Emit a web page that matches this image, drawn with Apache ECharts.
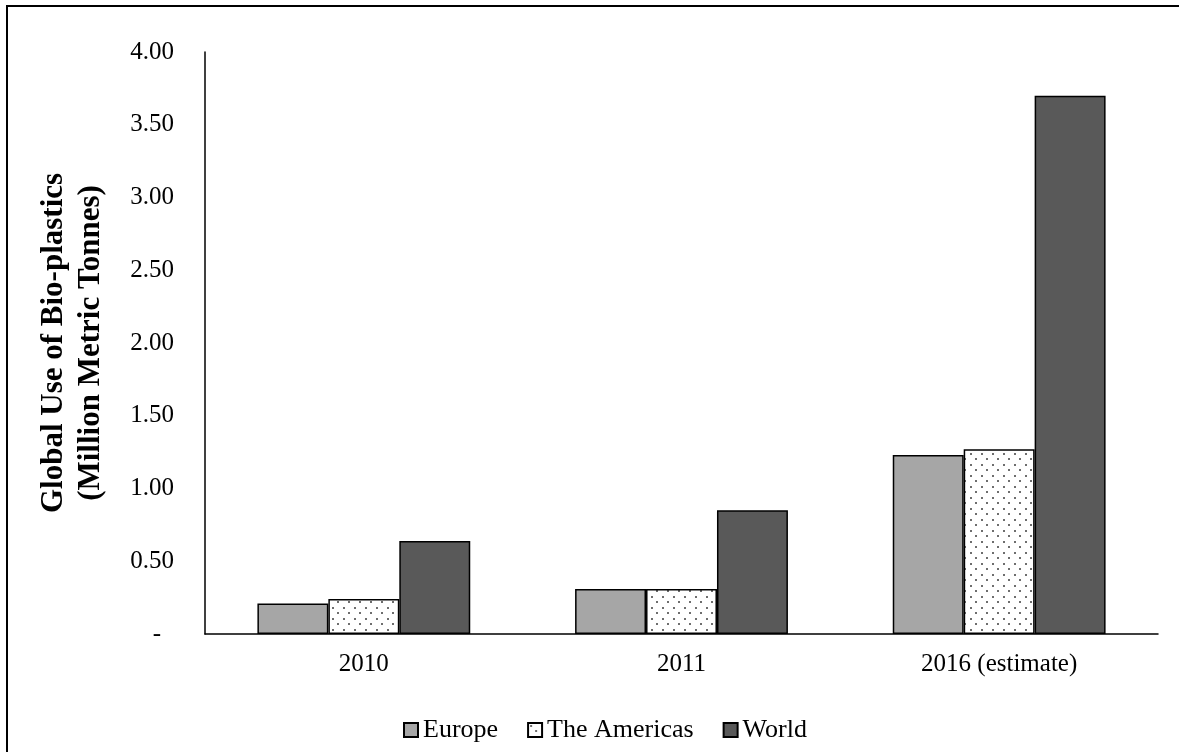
<!DOCTYPE html>
<html>
<head>
<meta charset="utf-8">
<script src="https://cdn.jsdelivr.net/npm/echarts@6/dist/echarts.min.js"></script>
<style>
  html, body { margin: 0; padding: 0; background: #fff; }
  #chart { width: 1179px; height: 752px; }
</style>
</head>
<body>
<div id="chart"></div>
<script>
// Global use of bio-plastics, million metric tonnes
const categories = ['2010', '2011', '2016 (estimate)'];
const europe = [0.21, 0.31, 1.23];
const americas = [0.24, 0.31, 1.27];
const world = [0.64, 0.85, 3.70];
const yTicks = [0, 0.5, 1, 1.5, 2, 2.5, 3, 3.5, 4];

// Dotted fill for "The Americas"
function dotPattern() {
  const c = document.createElement('canvas');
  c.width = 11; c.height = 11;
  const g = c.getContext('2d');
  g.fillStyle = '#ffffff';
  g.fillRect(0, 0, 11, 11);
  g.fillStyle = '#6e6e6e';
  g.fillRect(2, 2, 2, 2);
  g.fillRect(7, 7, 2, 2);
  return c;
}

const font = '"Liberation Serif", "Times New Roman", serif';
const chart = echarts.init(document.getElementById('chart'));

const barBase = {
  type: 'bar',
  barGap: '0%',
  barCategoryGap: '33%',
  animation: false
};

chart.setOption({
  backgroundColor: '#ffffff',
  textStyle: { fontFamily: font, color: '#000' },
  graphic: [{
    type: 'rect',
    shape: { x: 7, y: 6, width: 1200, height: 800 },
    style: { fill: 'none', stroke: '#000', lineWidth: 2 },
    silent: true
  }],
  grid: { left: 205, right: 21, top: 52, bottom: 118, outerBoundsMode: 'none', containLabel: false },
  legend: {
    top: 712,
    left: 398,
    icon: 'rect',
    itemWidth: 14,
    itemHeight: 14,
    itemGap: 29,
    textStyle: { fontFamily: font, fontSize: 26, color: '#000' },
    data: ['Europe', 'The Americas', 'World']
  },
  xAxis: {
    type: 'category',
    data: categories,
    axisLine: { lineStyle: { color: '#000', width: 1.5 } },
    axisTick: { show: false },
    axisLabel: { fontFamily: font, fontSize: 25, color: '#000', margin: 18 }
  },
  yAxis: {
    type: 'value',
    min: 0,
    max: 4,
    interval: 0.5,
    name: 'Global Use of Bio-plastics\n(Million Metric Tonnes)',
    nameLocation: 'middle',
    nameGap: 96,
    nameTextStyle: { fontFamily: font, fontSize: 31, fontWeight: 'bold', color: '#000', lineHeight: 37 },
    axisLine: { show: true, lineStyle: { color: '#000', width: 1.5 } },
    axisTick: { show: false },
    splitLine: { show: false },
    axisLabel: {
      fontFamily: font, fontSize: 25, color: '#000', margin: 31,
      formatter: v => (yTicks.includes(v) ? (v === 0 ? '{dash|-}' : v.toFixed(2)) : ''),
      rich: { dash: { fontFamily: font, fontSize: 25, color: '#000', padding: [0, 13, 0, 0] } }
    }
  },
  series: [
    Object.assign({}, barBase, {
      name: 'Europe',
      data: europe,
      itemStyle: { color: '#a6a6a6', borderColor: '#000', borderWidth: 1.5 }
    }),
    Object.assign({}, barBase, {
      name: 'The Americas',
      data: americas,
      itemStyle: { color: { image: dotPattern(), repeat: 'repeat' }, borderColor: '#000', borderWidth: 1.5 }
    }),
    Object.assign({}, barBase, {
      name: 'World',
      data: world,
      itemStyle: { color: '#595959', borderColor: '#000', borderWidth: 1.5 }
    })
  ]
});
</script>
</body>
</html>
